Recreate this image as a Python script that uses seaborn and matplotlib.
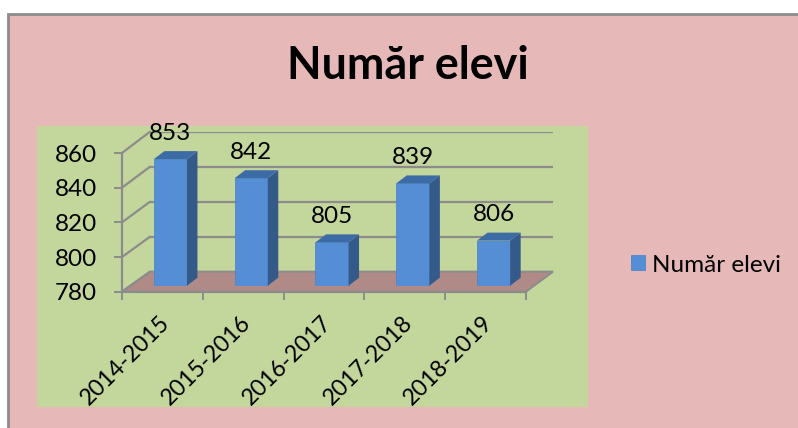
import matplotlib
matplotlib.use("Agg")
import matplotlib.pyplot as plt
from matplotlib.patches import Polygon, Rectangle, ConnectionPatch
from matplotlib.transforms import Affine2D, IdentityTransform
import pandas as pd
import seaborn as sns

years = ["2014-2015", "2015-2016", "2016-2017", "2017-2018", "2018-2019"]
students = [853, 842, 805, 839, 806]
y_ticks = [780, 800, 820, 840, 860]
series_name = "Număr elevi"

W, H = 798, 428
PINK = "#E6B9B8"
GREEN = "#C3D69B"
GREY = "#8C8C8C"
FRONT = "#558ED5"
SIDE = "#345A8A"
TOP = "#3D6BA5"
FLOOR = "#AF8A87"

sns.set_style("white")
plt.rcParams["font.family"] = ["Lato", "DejaVu Sans"]

fig = plt.figure(figsize=(W / 100, H / 100), dpi=100, facecolor="white")


def add_axes_px(x0, x1, ytop, ybottom):
    # axes rectangle given in image pixels (y measured from the top)
    ax = fig.add_axes([x0 / W, 1 - ybottom / H, (x1 - x0) / W, (ybottom - ytop) / H])
    ax.set_xlim(-0.5, 4.5)
    ax.set_ylim(780, 860)
    ax.patch.set_visible(False)
    return ax


# chart and plot backgrounds, right and bottom edges run off the image
fig.add_artist(Rectangle((8 / W, -0.05), 1.05, 1.05 - 14 / H, transform=fig.transFigure,
                         facecolor=PINK, edgecolor=GREY, linewidth=2, zorder=-3))
fig.add_artist(Rectangle((37 / W, 1 - 407 / H), 551 / W, 281 / H, transform=fig.transFigure,
                         facecolor=GREEN, edgecolor="none", zorder=-2))

# three planes: back wall, front axis and the plane the bars stand on
ax_back = add_axes_px(150, 553, 131.7, 271.7)
ax_front = add_axes_px(122, 526, 153, 291.7)
ax_bar = add_axes_px(130, 534, 147, 285.7)
ax_back.set_zorder(1)
ax_front.set_zorder(2)
ax_bar.set_zorder(3)

# back wall gridlines
sns.despine(ax=ax_back, left=True, bottom=True, top=True, right=True)
ax_back.set_xticks([])
ax_back.set_yticks(y_ticks)
ax_back.tick_params(left=False, labelleft=False)
ax_back.grid(axis="y", color=GREY, linewidth=1.6)
ax_back.set_axisbelow(True)

# floor
corners = [ax_front.transData.transform((-0.5, 780)), ax_front.transData.transform((4.5, 780)),
           ax_back.transData.transform((4.5, 780)), ax_back.transData.transform((-0.5, 780))]
fig.add_artist(Polygon(corners, closed=True, transform=IdentityTransform(), facecolor=FLOOR,
                       edgecolor=GREY, linewidth=1.4, zorder=0.5))

# diagonal gridlines on the side wall
for v in y_ticks:
    fig.add_artist(ConnectionPatch(xyA=(-0.5, v), coordsA=ax_front.transData,
                                   xyB=(-0.5, v), coordsB=ax_back.transData,
                                   color=GREY, linewidth=1.6, zorder=1.5))

# front axis
sns.despine(ax=ax_front, top=True, right=True)
for side in ["left", "bottom"]:
    ax_front.spines[side].set_color(GREY)
    ax_front.spines[side].set_linewidth(1.6)
ax_front.set_yticks(y_ticks)
ax_front.set_xticks(range(len(years)))
ax_front.set_xticklabels(years, rotation=45, ha="right", va="center", rotation_mode="anchor")
ax_front.set_xticks([i - 0.5 for i in range(len(years) + 1)], minor=True)
ax_front.tick_params(axis="x", which="major", length=0, pad=20, labelsize=16.7, colors="black")
ax_front.tick_params(axis="x", which="minor", length=5.8, width=1.4, color=GREY, bottom=True)
ax_front.tick_params(axis="y", length=5.8, width=1.4, color=GREY, pad=12, labelsize=17.5,
                     labelcolor="black", left=True)
for lbl in ax_front.get_xticklabels():
    lbl.set_transform(lbl.get_transform() + Affine2D().translate(4, 0))

# bars
df = pd.DataFrame({"year": years, "students": students})
sns.barplot(data=df, x="year", y="students", ax=ax_bar, color=FRONT, saturation=1,
            width=0.41, label=series_name, edgecolor="#4F86C9", linewidth=0.6)
ax_bar.set_xlim(-0.5, 4.5)
ax_bar.set_ylim(780, 860)
ax_bar.axis("off")

DX, DY = 10.5, 8
for i, bar in enumerate(ax_bar.patches):
    x0 = bar.get_x()
    x1 = x0 + bar.get_width()
    val = students[i]
    xa, ya = ax_bar.transData.transform((x0, val))
    xb, yb = ax_bar.transData.transform((x1, val))
    _, y_base = ax_bar.transData.transform((x1, 780))
    ax_bar.add_patch(Polygon([(xb, y_base), (xb + DX, y_base + DY), (xb + DX, yb + DY), (xb, yb)],
                             transform=IdentityTransform(), facecolor=SIDE, edgecolor="none",
                             clip_on=False))
    ax_bar.add_patch(Polygon([(xa, ya), (xb, yb), (xb + DX, yb + DY), (xa + DX, ya + DY)],
                             transform=IdentityTransform(), facecolor=TOP, edgecolor="none",
                             clip_on=False))
    ax_bar.annotate(str(val), xy=((x0 + x1) / 2, val), xytext=(0, 18.5), textcoords="offset points",
                    ha="center", va="center", fontsize=17.5, color="black", annotation_clip=False)

# legend
ax_bar.legend(loc="center left", bbox_to_anchor=(621 / W, 1 - 265 / H),
              bbox_transform=fig.transFigure, frameon=False, fontsize=17.5, labelcolor="black",
              handlelength=0.58, handleheight=0.58, handletextpad=0.28,
              borderpad=0.4, borderaxespad=0)

fig.text(408 / W, 1 - 66 / H, series_name, ha="center", va="center", fontsize=32.3,
         fontweight="bold", color="black")

fig.savefig("out.png", dpi=100)
